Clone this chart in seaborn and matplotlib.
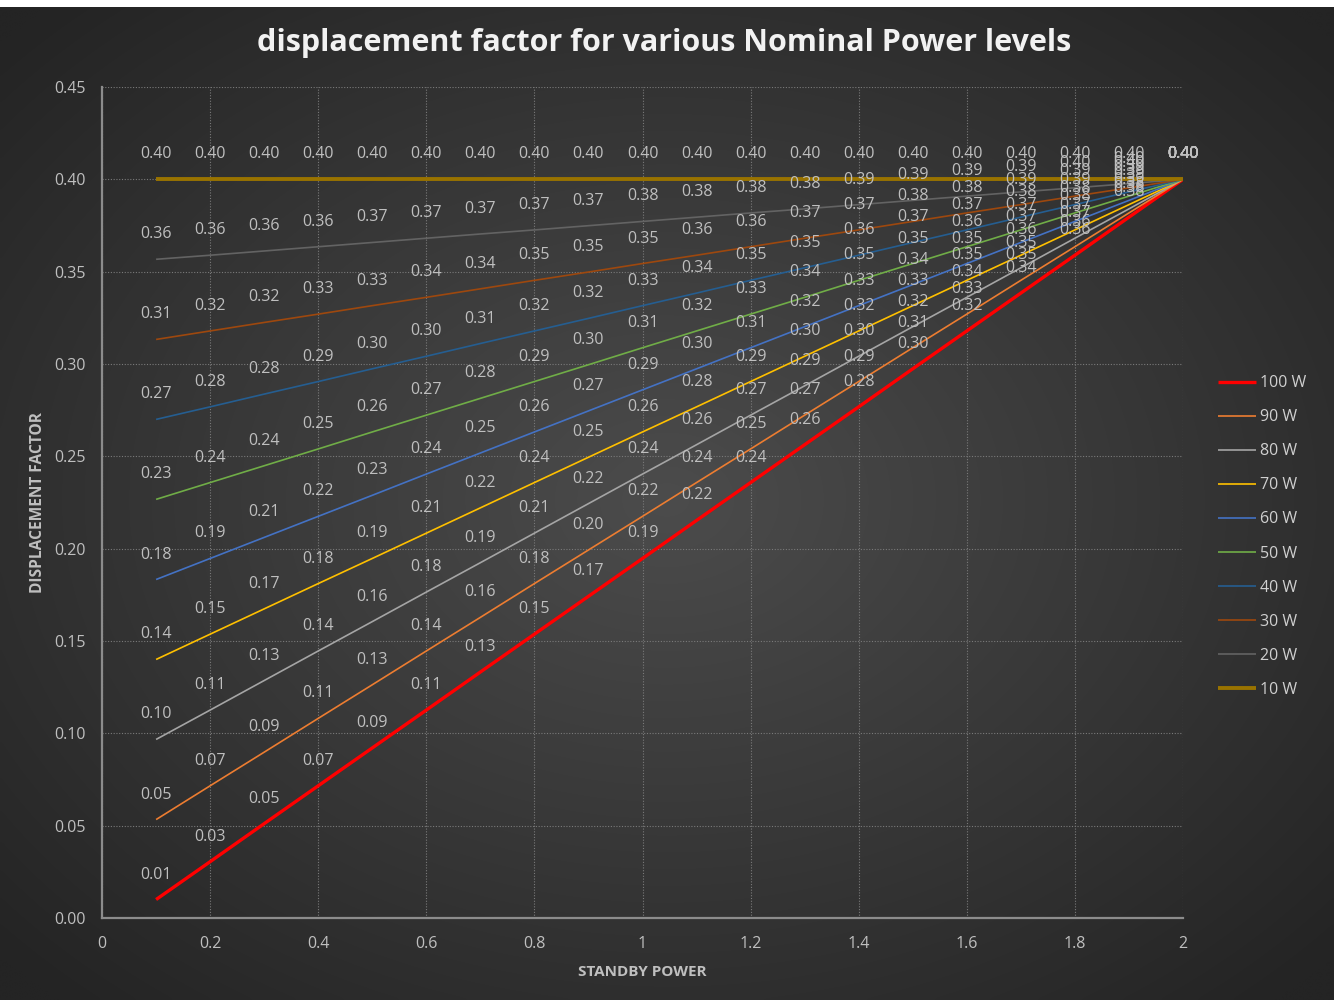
import numpy as np
import pandas as pd
import matplotlib
matplotlib.use("Agg")
import matplotlib.pyplot as plt
from matplotlib.patches import Rectangle
import seaborn as sns

# ---------------- data ----------------
STANDBY = [0.1, 0.2, 0.3, 0.4, 0.5, 0.6, 0.7, 0.8, 0.9, 1.0,
           1.1, 1.2, 1.3, 1.4, 1.5, 1.6, 1.7, 1.8, 1.9, 2.0]

W100 = [0.0100, 0.0305, 0.0511, 0.0716, 0.0921, 0.1126, 0.1332, 0.1537, 0.1742, 0.1947,
        0.2153, 0.2358, 0.2563, 0.2768, 0.2974, 0.3179, 0.3384, 0.3589, 0.3795, 0.4000]
W90 = [0.0533, 0.0716, 0.0898, 0.1081, 0.1263, 0.1446, 0.1628, 0.1811, 0.1993, 0.2175,
       0.2358, 0.2540, 0.2723, 0.2905, 0.3088, 0.3270, 0.3453, 0.3635, 0.3818, 0.4000]
W80 = [0.0967, 0.1126, 0.1286, 0.1446, 0.1605, 0.1765, 0.1924, 0.2084, 0.2244, 0.2404,
       0.2563, 0.2723, 0.2882, 0.3042, 0.3202, 0.3361, 0.3521, 0.3681, 0.3840, 0.4000]
W70 = [0.1400, 0.1537, 0.1674, 0.1811, 0.1947, 0.2084, 0.2221, 0.2358, 0.2495, 0.2632,
       0.2768, 0.2905, 0.3042, 0.3179, 0.3316, 0.3453, 0.3589, 0.3726, 0.3863, 0.4000]
W60 = [0.1833, 0.1947, 0.2061, 0.2175, 0.2289, 0.2404, 0.2518, 0.2632, 0.2746, 0.2860,
       0.2974, 0.3088, 0.3202, 0.3316, 0.3430, 0.3544, 0.3658, 0.3772, 0.3886, 0.4000]
W50 = [0.2267, 0.2358, 0.2449, 0.2540, 0.2632, 0.2723, 0.2814, 0.2905, 0.2996, 0.3088,
       0.3179, 0.3270, 0.3361, 0.3453, 0.3544, 0.3635, 0.3726, 0.3818, 0.3909, 0.4000]
W40 = [0.2700, 0.2768, 0.2837, 0.2905, 0.2974, 0.3042, 0.3111, 0.3179, 0.3247, 0.3316,
       0.3384, 0.3453, 0.3521, 0.3589, 0.3658, 0.3726, 0.3795, 0.3863, 0.3932, 0.4000]
W30 = [0.3133, 0.3179, 0.3225, 0.3270, 0.3316, 0.3361, 0.3407, 0.3453, 0.3498, 0.3544,
       0.3589, 0.3635, 0.3681, 0.3726, 0.3772, 0.3818, 0.3863, 0.3909, 0.3954, 0.4000]
W20 = [0.3567, 0.3589, 0.3612, 0.3635, 0.3658, 0.3681, 0.3704, 0.3726, 0.3749, 0.3772,
       0.3795, 0.3818, 0.3840, 0.3863, 0.3886, 0.3909, 0.3932, 0.3954, 0.3977, 0.4000]
W10 = [0.4000, 0.4000, 0.4000, 0.4000, 0.4000, 0.4000, 0.4000, 0.4000, 0.4000, 0.4000,
       0.4000, 0.4000, 0.4000, 0.4000, 0.4000, 0.4000, 0.4000, 0.4000, 0.4000, 0.4000]

SERIES_NAMES = ["100 W", "90 W", "80 W", "70 W", "60 W", "50 W", "40 W", "30 W", "20 W", "10 W"]
SERIES_VALUES = [W100, W90, W80, W70, W60, W50, W40, W30, W20, W10]

X_TICKS = [0, 0.2, 0.4, 0.6, 0.8, 1.0, 1.2, 1.4, 1.6, 1.8, 2.0]
X_TICK_LABELS = ["0", "0.2", "0.4", "0.6", "0.8", "1", "1.2", "1.4", "1.6", "1.8", "2"]
Y_TICKS = [0.00, 0.05, 0.10, 0.15, 0.20, 0.25, 0.30, 0.35, 0.40, 0.45]
Y_TICK_LABELS = ["0.00", "0.05", "0.10", "0.15", "0.20", "0.25", "0.30", "0.35", "0.40", "0.45"]

TITLE = "displacement factor for various Nominal Power levels"
X_LABEL = "STANDBY POWER"
Y_LABEL = "DISPLACEMENT FACTOR"

# ---------------- styles ----------------
COLORS = {"100 W": "#FF0000", "90 W": "#ED7D31", "80 W": "#A5A5A5", "70 W": "#FFC000",
          "60 W": "#4472C4", "50 W": "#70AD47", "40 W": "#255E91", "30 W": "#9E480E",
          "20 W": "#636363", "10 W": "#997300"}
WIDTHS = {"100 W": 2.4, "90 W": 1.2, "80 W": 1.2, "70 W": 1.2, "60 W": 1.2, "50 W": 1.2,
          "40 W": 1.2, "30 W": 1.2, "20 W": 1.2, "10 W": 2.8}
TEXT_C = "#BFBFBF"

sns.set_theme(style="dark")
plt.rcParams["font.family"] = ["Open Sans", "DejaVu Sans"]

df = pd.DataFrame({
    "standby": np.tile(STANDBY, len(SERIES_NAMES)),
    "factor": np.concatenate(SERIES_VALUES),
    "series": np.repeat(SERIES_NAMES, len(STANDBY)),
})

fig = plt.figure(figsize=(13.34, 10), dpi=100)
fig.patch.set_facecolor("#2b2b2b")

# radial gradient background
bg = fig.add_axes([0, 0, 1, 1], zorder=-10)
gx, gy = np.meshgrid(np.linspace(-1, 1, 400), np.linspace(-1, 1, 300))
r = np.sqrt(gx ** 2 + gy ** 2) / np.sqrt(2)
shade = (0x4C - (0x4C - 0x24) * np.clip(r * 1.05, 0, 1)) / 255.0
bg.imshow(np.dstack([shade, shade, shade]), extent=[0, 1, 0, 1], aspect="auto",
          interpolation="bicubic")
bg.set_axis_off()

ax = fig.add_axes([0.0765, 0.082, 0.8103, 0.831])
ax.set_facecolor("none")

for name in SERIES_NAMES:
    sub = df[df["series"] == name]
    sns.lineplot(data=sub, x="standby", y="factor", ax=ax, color=COLORS[name],
                 linewidth=WIDTHS[name], label=name, legend=False,
                 solid_capstyle="butt")

for name, vals in zip(SERIES_NAMES, SERIES_VALUES):
    for xv, yv in zip(STANDBY, vals):
        ax.annotate(f"{yv:.2f}", (xv, yv), xytext=(0, 18.0), textcoords="offset points",
                    ha="center", va="center", fontsize=11.5, color=TEXT_C, zorder=10)

ax.set_xlim(0, 2)
ax.set_ylim(0, 0.45)
ax.set_xticks(X_TICKS)
ax.set_xticklabels(X_TICK_LABELS)
ax.set_yticks(Y_TICKS)
ax.set_yticklabels(Y_TICK_LABELS)
ax.tick_params(axis="both", length=0, labelsize=11.5, colors=TEXT_C)
ax.tick_params(axis="y", pad=12)
ax.tick_params(axis="x", pad=13)

ax.grid(True, linestyle=(0, (1, 1.5)), color="#7A7A7A", linewidth=0.8)
for side in ["top", "right"]:
    ax.spines[side].set_visible(False)
for side in ["left", "bottom"]:
    ax.spines[side].set_visible(True)
    ax.spines[side].set_color("#8C8C8C")
    ax.spines[side].set_linewidth(1.6)
    ax.spines[side].set_zorder(3)

ax.set_xlabel(X_LABEL, fontsize=11, fontweight="bold", color=TEXT_C)
ax.set_ylabel(Y_LABEL, fontsize=11.2, fontweight="bold", color=TEXT_C)
ax.xaxis.set_label_coords(0.5, -0.0645)
ax.xaxis.label.set_va("center")
ax.yaxis.set_label_coords(-0.0595, 0.5)
ax.yaxis.label.set_va("center")

fig.text(0.4978, 0.957, TITLE, ha="center", va="center", fontsize=22,
         fontweight="bold", color="#F2F2F2")

handles, labels = ax.get_legend_handles_labels()
leg = ax.legend(handles, labels, loc="center left",
                bbox_to_anchor=(1218 / 1334, 1 - 536.5 / 1000),
                bbox_transform=fig.transFigure, frameon=False, fontsize=11.5,
                handlelength=2.4, handletextpad=0.25, labelspacing=1.13,
                borderpad=0, borderaxespad=0, labelcolor="#D0D0D0")

fig.patches.append(Rectangle((0, 0.993), 1, 0.007, transform=fig.transFigure,
                             facecolor="white", edgecolor="none", zorder=20))

fig.savefig("out.png", dpi=100)
